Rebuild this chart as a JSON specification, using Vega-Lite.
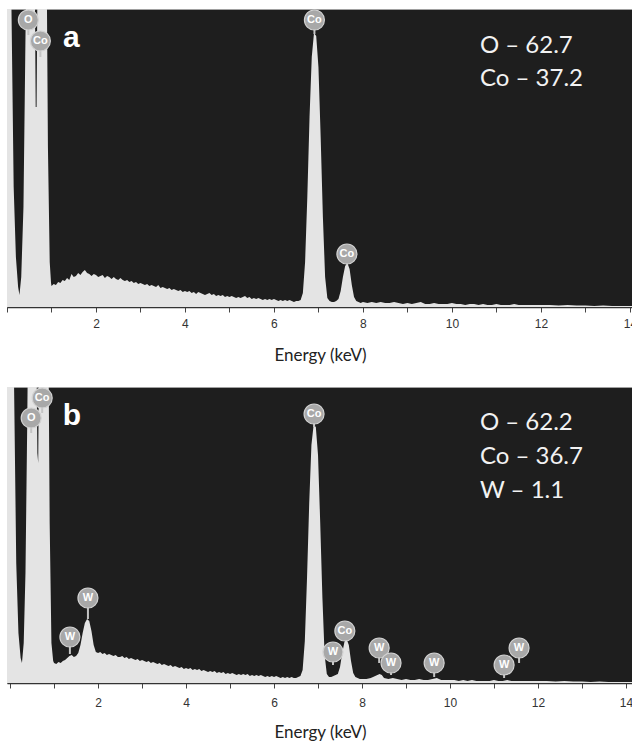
{
"$schema": "https://vega.github.io/schema/vega-lite/v6.json",
"padding": {"left": 6, "top": 7, "right": 0, "bottom": 0},
"background": "white",
"config": {"view": {"fill": "#1e1e1e", "stroke": "#a0a0a0", "strokeWidth": 1}, "concat": {"spacing": 21}},
"datasets": {
"specA": [
{"e":0,"c":400},{"e":0.07,"c":400},{"e":0.1,"c":300},{"e":0.15,"c":120},{"e":0.2,"c":50},{"e":0.25,"c":20},{"e":0.28,"c":12},{"e":0.32,"c":30},{"e":0.37,"c":100},{"e":0.41,"c":250},{"e":0.45,"c":400},{"e":0.52,"c":600},{"e":0.61,"c":420},{"e":0.645,"c":200},{"e":0.665,"c":200},{"e":0.7,"c":420},{"e":0.78,"c":700},{"e":0.88,"c":420},{"e":0.92,"c":160},{"e":0.96,"c":45},{"e":0.99,"c":24},
{"e":1.00,"c":21},{"e":1.05,"c":23},{"e":1.10,"c":22},{"e":1.15,"c":25},{"e":1.20,"c":24},{"e":1.25,"c":27},{"e":1.30,"c":26},{"e":1.35,"c":29},{"e":1.40,"c":27},{"e":1.45,"c":33},{"e":1.50,"c":30},{"e":1.55,"c":31},{"e":1.60,"c":34},{"e":1.65,"c":32},{"e":1.70,"c":35},{"e":1.75,"c":37},{"e":1.80,"c":34},{"e":1.85,"c":33},{"e":1.90,"c":31},{"e":1.95,"c":33},
{"e":2.00,"c":32},{"e":2.05,"c":30},{"e":2.10,"c":31},{"e":2.15,"c":32},{"e":2.20,"c":29},{"e":2.25,"c":31},{"e":2.30,"c":30},{"e":2.35,"c":28},{"e":2.40,"c":30},{"e":2.45,"c":28},{"e":2.50,"c":27},{"e":2.55,"c":29},{"e":2.60,"c":27},{"e":2.65,"c":26},{"e":2.70,"c":27},{"e":2.75,"c":25},{"e":2.80,"c":26},{"e":2.85,"c":24},{"e":2.90,"c":25},{"e":2.95,"c":23},
{"e":3.00,"c":24},{"e":3.05,"c":23},{"e":3.10,"c":22},{"e":3.15,"c":23},{"e":3.20,"c":21},{"e":3.25,"c":22},{"e":3.30,"c":21},{"e":3.35,"c":20},{"e":3.40,"c":22},{"e":3.45,"c":19},{"e":3.50,"c":20},{"e":3.55,"c":19},{"e":3.60,"c":18},{"e":3.65,"c":19},{"e":3.70,"c":17},{"e":3.75,"c":18},{"e":3.80,"c":17},{"e":3.85,"c":16},{"e":3.90,"c":17},{"e":3.95,"c":15},
{"e":4.00,"c":16},{"e":4.05,"c":15},{"e":4.10,"c":16},{"e":4.15,"c":14},{"e":4.20,"c":15},{"e":4.25,"c":13},{"e":4.30,"c":15},{"e":4.35,"c":14},{"e":4.40,"c":13},{"e":4.45,"c":12},{"e":4.50,"c":13},{"e":4.55,"c":14},{"e":4.60,"c":12},{"e":4.65,"c":13},{"e":4.70,"c":11},{"e":4.75,"c":12},{"e":4.80,"c":11},{"e":4.85,"c":12},{"e":4.90,"c":10},{"e":4.95,"c":11},
{"e":5.00,"c":10},{"e":5.05,"c":11},{"e":5.10,"c":10},{"e":5.15,"c":9},{"e":5.20,"c":10},{"e":5.25,"c":9},{"e":5.30,"c":10},{"e":5.35,"c":11},{"e":5.40,"c":9},{"e":5.45,"c":10},{"e":5.50,"c":8},{"e":5.55,"c":9},{"e":5.60,"c":8},{"e":5.65,"c":9},{"e":5.70,"c":8},{"e":5.75,"c":7},{"e":5.80,"c":8},{"e":5.85,"c":7},{"e":5.90,"c":8},{"e":5.95,"c":7},
{"e":6.00,"c":8},{"e":6.05,"c":7},{"e":6.10,"c":6},{"e":6.15,"c":7},{"e":6.20,"c":6},{"e":6.25,"c":7},{"e":6.30,"c":6},{"e":6.35,"c":7},{"e":6.40,"c":6},{"e":6.45,"c":5},{"e":6.50,"c":6},{"e":6.55,"c":6},{"e":6.60,"c":7},
{"e":6.65,"c":14},{"e":6.70,"c":45},{"e":6.75,"c":110},{"e":6.80,"c":190},{"e":6.85,"c":250},{"e":6.90,"c":274},{"e":6.95,"c":271},{"e":7.00,"c":240},{"e":7.05,"c":170},{"e":7.10,"c":90},{"e":7.15,"c":30},{"e":7.20,"c":9},{"e":7.25,"c":6},{"e":7.30,"c":5},{"e":7.35,"c":5},{"e":7.40,"c":6},{"e":7.45,"c":8},{"e":7.50,"c":16},{"e":7.55,"c":30},{"e":7.60,"c":41},{"e":7.65,"c":44},{"e":7.70,"c":38},{"e":7.75,"c":22},{"e":7.80,"c":10},{"e":7.85,"c":6},{"e":7.90,"c":5},{"e":7.95,"c":4},
{"e":8.0,"c":5},{"e":8.1,"c":4},{"e":8.2,"c":5},{"e":8.3,"c":4},{"e":8.4,"c":5},{"e":8.5,"c":4},{"e":8.6,"c":4},{"e":8.7,"c":5},{"e":8.8,"c":4},{"e":8.9,"c":3},{"e":9.0,"c":4},{"e":9.1,"c":3},{"e":9.2,"c":4},{"e":9.3,"c":5},{"e":9.4,"c":3},{"e":9.5,"c":3},{"e":9.6,"c":4},{"e":9.7,"c":3},{"e":9.8,"c":3},{"e":9.9,"c":3},
{"e":10.0,"c":4},{"e":10.1,"c":3},{"e":10.2,"c":3},{"e":10.3,"c":2},{"e":10.4,"c":3},{"e":10.5,"c":3},{"e":10.6,"c":2},{"e":10.7,"c":3},{"e":10.8,"c":2},{"e":10.9,"c":2},{"e":11.0,"c":3},{"e":11.1,"c":2},{"e":11.2,"c":2},{"e":11.3,"c":2},{"e":11.4,"c":3},{"e":11.5,"c":2},{"e":11.6,"c":2},{"e":11.7,"c":2},{"e":11.8,"c":2},{"e":11.9,"c":2},
{"e":12.0,"c":2},{"e":12.2,"c":2},{"e":12.4,"c":1.5},{"e":12.6,"c":2},{"e":12.8,"c":1.5},{"e":13.0,"c":1.5},{"e":13.2,"c":1},{"e":13.4,"c":1.5},{"e":13.6,"c":1},{"e":13.8,"c":1},{"e":14.0,"c":1},{"e":14.2,"c":1}
],
"specB": [
{"e":-0.07,"c":400},{"e":0.05,"c":400},{"e":0.09,"c":300},{"e":0.14,"c":120},{"e":0.19,"c":50},{"e":0.24,"c":25},{"e":0.27,"c":20},{"e":0.31,"c":40},{"e":0.35,"c":110},{"e":0.39,"c":260},{"e":0.42,"c":400},{"e":0.48,"c":600},{"e":0.58,"c":420},{"e":0.62,"c":230},{"e":0.64,"c":220},{"e":0.67,"c":420},{"e":0.75,"c":700},{"e":0.86,"c":420},{"e":0.9,"c":160},{"e":0.94,"c":40},{"e":0.98,"c":22},
{"e":1.00,"c":20},{"e":1.05,"c":19},{"e":1.10,"c":21},{"e":1.15,"c":20},{"e":1.20,"c":22},{"e":1.25,"c":23},{"e":1.30,"c":25},{"e":1.35,"c":27},{"e":1.40,"c":28},{"e":1.45,"c":26},{"e":1.50,"c":27},{"e":1.55,"c":30},{"e":1.60,"c":38},{"e":1.65,"c":50},{"e":1.70,"c":60},{"e":1.75,"c":64},{"e":1.80,"c":62},{"e":1.85,"c":52},{"e":1.90,"c":38},{"e":1.95,"c":31},
{"e":2.00,"c":30},{"e":2.05,"c":31},{"e":2.10,"c":29},{"e":2.15,"c":30},{"e":2.20,"c":28},{"e":2.25,"c":29},{"e":2.30,"c":28},{"e":2.35,"c":27},{"e":2.40,"c":28},{"e":2.45,"c":26},{"e":2.50,"c":26},{"e":2.55,"c":27},{"e":2.60,"c":25},{"e":2.65,"c":26},{"e":2.70,"c":24},{"e":2.75,"c":25},{"e":2.80,"c":24},{"e":2.85,"c":23},{"e":2.90,"c":24},{"e":2.95,"c":22},
{"e":3.00,"c":23},{"e":3.05,"c":22},{"e":3.10,"c":21},{"e":3.15,"c":22},{"e":3.20,"c":20},{"e":3.25,"c":21},{"e":3.30,"c":20},{"e":3.35,"c":19},{"e":3.40,"c":20},{"e":3.45,"c":18},{"e":3.50,"c":19},{"e":3.55,"c":18},{"e":3.60,"c":17},{"e":3.65,"c":18},{"e":3.70,"c":16},{"e":3.75,"c":17},{"e":3.80,"c":16},{"e":3.85,"c":15},{"e":3.90,"c":16},{"e":3.95,"c":14},
{"e":4.00,"c":15},{"e":4.05,"c":14},{"e":4.10,"c":15},{"e":4.15,"c":13},{"e":4.20,"c":14},{"e":4.25,"c":13},{"e":4.30,"c":14},{"e":4.35,"c":12},{"e":4.40,"c":13},{"e":4.45,"c":12},{"e":4.50,"c":11},{"e":4.55,"c":12},{"e":4.60,"c":11},{"e":4.65,"c":12},{"e":4.70,"c":10},{"e":4.75,"c":11},{"e":4.80,"c":10},{"e":4.85,"c":11},{"e":4.90,"c":9},{"e":4.95,"c":10},
{"e":5.00,"c":9},{"e":5.05,"c":10},{"e":5.10,"c":9},{"e":5.15,"c":8},{"e":5.20,"c":9},{"e":5.25,"c":8},{"e":5.30,"c":9},{"e":5.35,"c":8},{"e":5.40,"c":9},{"e":5.45,"c":7},{"e":5.50,"c":8},{"e":5.55,"c":7},{"e":5.60,"c":8},{"e":5.65,"c":7},{"e":5.70,"c":8},{"e":5.75,"c":7},{"e":5.80,"c":6},{"e":5.85,"c":7},{"e":5.90,"c":6},{"e":5.95,"c":7},
{"e":6.00,"c":6},{"e":6.05,"c":7},{"e":6.10,"c":6},{"e":6.15,"c":5},{"e":6.20,"c":6},{"e":6.25,"c":5},{"e":6.30,"c":6},{"e":6.35,"c":5},{"e":6.40,"c":6},{"e":6.45,"c":5},{"e":6.50,"c":5},{"e":6.55,"c":6},{"e":6.60,"c":7},
{"e":6.65,"c":13},{"e":6.70,"c":42},{"e":6.75,"c":105},{"e":6.80,"c":180},{"e":6.85,"c":238},{"e":6.90,"c":258},{"e":6.95,"c":256},{"e":7.00,"c":228},{"e":7.05,"c":160},{"e":7.10,"c":85},{"e":7.15,"c":28},{"e":7.20,"c":9},{"e":7.25,"c":6},{"e":7.30,"c":6},{"e":7.35,"c":7},{"e":7.40,"c":8},{"e":7.45,"c":9},{"e":7.50,"c":16},{"e":7.55,"c":30},{"e":7.60,"c":41},{"e":7.65,"c":44},{"e":7.70,"c":38},{"e":7.75,"c":22},{"e":7.80,"c":10},{"e":7.85,"c":6},{"e":7.90,"c":5},{"e":7.95,"c":4},
{"e":8.0,"c":4},{"e":8.1,"c":4},{"e":8.2,"c":5},{"e":8.3,"c":7},{"e":8.4,"c":9},{"e":8.45,"c":8},{"e":8.5,"c":5},{"e":8.6,"c":4},{"e":8.7,"c":5},{"e":8.8,"c":4},{"e":8.9,"c":3},{"e":9.0,"c":4},{"e":9.1,"c":3},{"e":9.2,"c":3},{"e":9.3,"c":4},{"e":9.4,"c":3},{"e":9.5,"c":3},{"e":9.6,"c":4},{"e":9.7,"c":5},{"e":9.8,"c":3},{"e":9.9,"c":3},
{"e":10.0,"c":3},{"e":10.1,"c":3},{"e":10.2,"c":2},{"e":10.3,"c":3},{"e":10.4,"c":2},{"e":10.5,"c":3},{"e":10.6,"c":2},{"e":10.7,"c":2},{"e":10.8,"c":2},{"e":10.9,"c":2},{"e":11.0,"c":3},{"e":11.1,"c":2},{"e":11.2,"c":2},{"e":11.3,"c":3},{"e":11.4,"c":2},{"e":11.5,"c":2},{"e":11.6,"c":2},{"e":11.7,"c":2},{"e":11.8,"c":2},{"e":11.9,"c":2},
{"e":12.0,"c":2},{"e":12.2,"c":2},{"e":12.4,"c":1.5},{"e":12.6,"c":2},{"e":12.8,"c":1.5},{"e":13.0,"c":1.5},{"e":13.2,"c":1},{"e":13.4,"c":1.5},{"e":13.6,"c":1},{"e":13.8,"c":1},{"e":14.0,"c":1},{"e":14.2,"c":1}
],
"labA": [
{"el":"O","e":0.48,"ly":287,"ty":272},{"el":"Co","e":0.75,"ly":266,"ty":250},{"el":"Co","e":6.91,"ly":287,"ty":273},{"el":"Co","e":7.64,"ly":53,"ty":43}
],
"labB": [
{"el":"O","e":0.48,"ly":265,"ty":250},{"el":"Co","e":0.73,"ly":285,"ty":270},{"el":"Co","e":6.91,"ly":269,"ty":256},{"el":"Co","e":7.61,"ly":52,"ty":42},
{"el":"W","e":1.36,"ly":46,"ty":29},{"el":"W","e":1.77,"ly":85,"ty":64},{"el":"W","e":7.34,"ly":31,"ty":18},{"el":"W","e":8.39,"ly":35,"ty":20},{"el":"W","e":8.66,"ly":20,"ty":8},{"el":"W","e":9.64,"ly":20,"ty":6},{"el":"W","e":11.23,"ly":18,"ty":5},{"el":"W","e":11.57,"ly":35,"ty":20}
]
},
"vconcat": [
{
"width": 626, "height": 298,
"layer": [
{"data": {"name": "specA"}, "mark": {"type": "area", "color": "#e4e4e4", "clip": true},
 "encoding": {
  "x": {"field": "e", "type": "quantitative", "scale": {"domain": [0, 14.07], "nice": false, "zero": false},
   "axis": {"values": [0,0.25,0.5,0.75,1,1.25,1.5,1.75,2,2.25,2.5,2.75,3,3.25,3.5,3.75,4,4.25,4.5,4.75,5,5.25,5.5,5.75,6,6.25,6.5,6.75,7,7.25,7.5,7.75,8,8.25,8.5,8.75,9,9.25,9.5,9.75,10,10.25,10.5,10.75,11,11.25,11.5,11.75,12,12.25,12.5,12.75,13,13.25,13.5,13.75,14],
    "labelExpr": "datum.value % 2 === 0 && datum.value > 0 ? datum.label : ''",
    "tickSize": {"condition": {"test": "datum.value % 1 === 0", "value": 5}, "value": 3},
    "domainColor": "#333333", "domainWidth": 1.5, "tickColor": "#444444", "tickWidth": 1,
    "labelFont": "Liberation Sans", "labelFontSize": 12, "labelColor": "#333333", "labelPadding": 6,
    "labelOverlap": false, "labelBound": false, "labelFlush": false, "grid": false,
    "title": "Energy (keV)", "titleFont": "Lato", "titleFontSize": 17, "titleFontWeight": 400, "titleColor": "#222222", "titlePadding": 18}},
  "y": {"field": "c", "type": "quantitative", "scale": {"domain": [0, 298], "nice": false}, "axis": null}
 }},
{"data": {"name": "labA"}, "mark": {"type": "rule", "color": "#c4c4c4", "strokeWidth": 2},
 "encoding": {"x": {"field": "e", "type": "quantitative"}, "y": {"field": "ly", "type": "quantitative"}, "y2": {"field": "ty"}}},
{"data": {"name": "labA"}, "mark": {"type": "point", "shape": "circle", "filled": true, "size": 400, "color": "#a8a8a8", "stroke": "#d2d2d2", "strokeWidth": 1.2, "opacity": 1},
 "encoding": {"x": {"field": "e", "type": "quantitative"}, "y": {"field": "ly", "type": "quantitative"}}},
{"data": {"name": "labA"}, "mark": {"type": "text", "color": "#ffffff", "font": "Liberation Sans", "fontSize": 11, "fontWeight": "bold", "baseline": "middle", "align": "center"},
 "encoding": {"x": {"field": "e", "type": "quantitative"}, "y": {"field": "ly", "type": "quantitative"}, "text": {"field": "el"}}},
{"data": {"values": [{"panel": "a"}]}, "mark": {"type": "text", "color": "#ffffff", "font": "Liberation Sans", "fontSize": 30, "fontWeight": "bold", "align": "left", "baseline": "alphabetic"},
 "encoding": {"x": {"datum": 1.26}, "y": {"datum": 260}, "text": {"field": "panel"}}},
{"data": {"values": [{"t": "O – 62.7"}]}, "mark": {"type": "text", "color": "#f2f2f2", "font": "Lato", "fontSize": 24, "align": "left", "baseline": "alphabetic", "text": ["O – 62.7", "Co – 37.2"], "lineHeight": 33},
 "encoding": {"x": {"datum": 10.63}, "y": {"datum": 254}}}
]
},
{
"width": 626, "height": 296,
"layer": [
{"data": {"name": "specB"}, "mark": {"type": "area", "color": "#e4e4e4", "clip": true},
 "encoding": {
  "x": {"field": "e", "type": "quantitative", "scale": {"domain": [-0.07, 14.16], "nice": false, "zero": false},
   "axis": {"values": [0,0.25,0.5,0.75,1,1.25,1.5,1.75,2,2.25,2.5,2.75,3,3.25,3.5,3.75,4,4.25,4.5,4.75,5,5.25,5.5,5.75,6,6.25,6.5,6.75,7,7.25,7.5,7.75,8,8.25,8.5,8.75,9,9.25,9.5,9.75,10,10.25,10.5,10.75,11,11.25,11.5,11.75,12,12.25,12.5,12.75,13,13.25,13.5,13.75,14],
    "labelExpr": "datum.value % 2 === 0 && datum.value > 0 ? datum.label : ''",
    "tickSize": {"condition": {"test": "datum.value % 1 === 0", "value": 5}, "value": 3},
    "domainColor": "#333333", "domainWidth": 1.5, "tickColor": "#444444", "tickWidth": 1,
    "labelFont": "Liberation Sans", "labelFontSize": 12, "labelColor": "#333333", "labelPadding": 9,
    "labelOverlap": false, "labelBound": false, "labelFlush": false, "grid": false,
    "title": "Energy (keV)", "titleFont": "Lato", "titleFontSize": 17, "titleFontWeight": 400, "titleColor": "#222222", "titlePadding": 16}},
  "y": {"field": "c", "type": "quantitative", "scale": {"domain": [0, 296], "nice": false}, "axis": null}
 }},
{"data": {"name": "labB"}, "mark": {"type": "rule", "color": "#c4c4c4", "strokeWidth": 2},
 "encoding": {"x": {"field": "e", "type": "quantitative"}, "y": {"field": "ly", "type": "quantitative"}, "y2": {"field": "ty"}}},
{"data": {"name": "labB"}, "mark": {"type": "point", "shape": "circle", "filled": true, "size": 400, "color": "#a8a8a8", "stroke": "#d2d2d2", "strokeWidth": 1.2, "opacity": 1},
 "encoding": {"x": {"field": "e", "type": "quantitative"}, "y": {"field": "ly", "type": "quantitative"}}},
{"data": {"name": "labB"}, "mark": {"type": "text", "color": "#ffffff", "font": "Liberation Sans", "fontSize": 11, "fontWeight": "bold", "baseline": "middle", "align": "center"},
 "encoding": {"x": {"field": "e", "type": "quantitative"}, "y": {"field": "ly", "type": "quantitative"}, "text": {"field": "el"}}},
{"data": {"values": [{"panel": "b"}]}, "mark": {"type": "text", "color": "#ffffff", "font": "Liberation Sans", "fontSize": 30, "fontWeight": "bold", "align": "left", "baseline": "alphabetic"},
 "encoding": {"x": {"datum": 1.2}, "y": {"datum": 258}, "text": {"field": "panel"}}},
{"data": {"values": [{"t": "O – 62.2"}]}, "mark": {"type": "text", "color": "#f2f2f2", "font": "Lato", "fontSize": 24, "align": "left", "baseline": "alphabetic", "text": ["O – 62.2", "Co – 36.7", "W – 1.1"], "lineHeight": 34},
 "encoding": {"x": {"datum": 10.68}, "y": {"datum": 253}}}
]
}
]
}
